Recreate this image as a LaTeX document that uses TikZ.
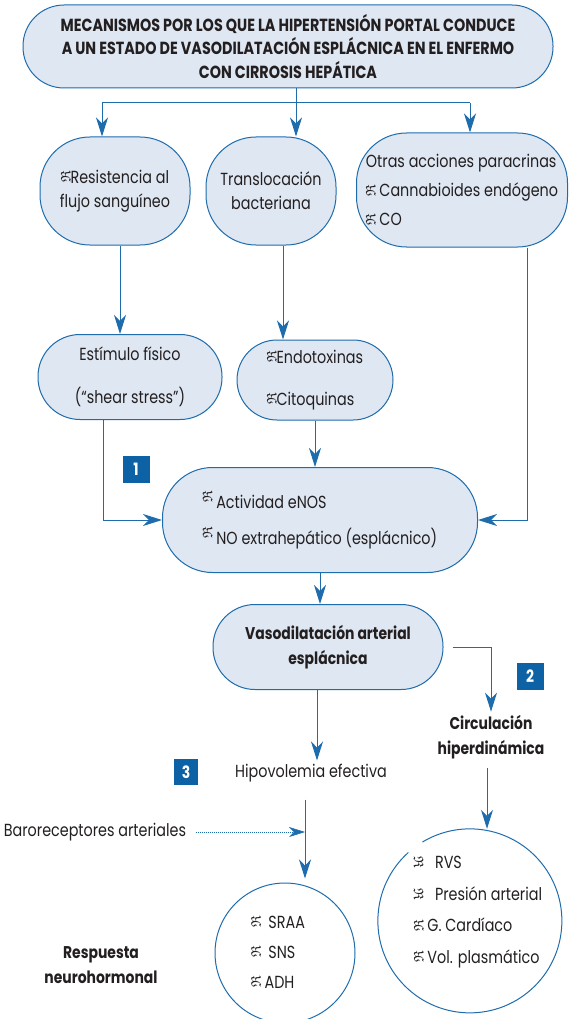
\documentclass[tikz,border=0pt]{standalone}
\usepackage{fontspec}
\setmainfont[FakeStretch=0.82]{Poppins}
\usepackage{amssymb}
\usetikzlibrary{arrows.meta}

\definecolor{lineblue}{RGB}{30,108,172}
\definecolor{boxfill}{RGB}{222,231,242}
\definecolor{numblue}{RGB}{12,98,165}
\definecolor{inkgray}{RGB}{35,31,32}

% arrow glyphs as printed
\newcommand{\upmark}{\raisebox{0.15ex}{\rotatebox[origin=c]{90}{\fontsize{14}{14}\selectfont$\mathfrak{R}$}}}
\newcommand{\dnmark}{\raisebox{0.15ex}{\rotatebox[origin=c]{-90}{\fontsize{14}{14}\selectfont$\mathfrak{R}$}}}

\begin{document}
\begin{tikzpicture}[x=1pt,y=-1pt,
  every node/.style={text=inkgray},
  link/.style={draw=lineblue, line width=1pt},
  arr/.style={link, -{Stealth[length=19pt,width=12pt,inset=6pt]}},
  box/.style={draw=lineblue, fill=boxfill, line width=1pt, rounded corners=#1,
    inner sep=0pt, align=center, font=\fontsize{17.5}{24}\selectfont},
  box/.default=40pt,
  num/.style={fill=numblue, text=white, font=\bfseries\fontsize{17}{17}\selectfont,
    minimum width=27pt, minimum height=27pt, inner sep=0pt},
  txt/.style={align=center, font=\fontsize{17.5}{24}\selectfont},
  bold/.style={align=center, font=\bfseries\fontsize{17}{25}\selectfont}]

\useasboundingbox (0,0) rectangle (574,1019);

% title
\node[box=41pt, minimum width=530pt, minimum height=83pt,
  font=\bfseries\fontsize{17.5}{23.5}\selectfont] (title) at (288,46.5)
  {MECANISMOS POR LOS QUE LA HIPERTENSIÓN PORTAL CONDUCE\\
   A UN ESTADO DE VASODILATACIÓN ESPLÁCNICA EN EL ENFERMO\\
   CON CIRROSIS HEPÁTICA};

% first row
\node[box=50pt, minimum width=150pt, minimum height=108pt] (A) at (115,191)
  {\upmark Resistencia al\\flujo sanguíneo};
\node[box=50pt, minimum width=130pt, minimum height=108pt] (B) at (271,191)
  {Translocación\\bacteriana};
\node[box=50pt, minimum width=211pt, minimum height=114pt, align=left,
  font=\fontsize{17.5}{29}\selectfont] (C) at (462,190)
  {Otras acciones paracrinas\\\upmark\ Cannabioides endógeno\\\upmark\ CO};

% second row
\node[box=42pt, minimum width=184pt, minimum height=85pt] (D) at (130,377)
  {Estímulo físico\\[19pt](“shear stress”)};
\node[box=40pt, minimum width=156pt, minimum height=80pt, align=left] (E) at (315,380)
  {\upmark Endotoxinas\\[18pt]\upmark Citoquinas};

% eNOS
\node[box=50pt, minimum width=315pt, minimum height=105pt, align=left] (F) at (320,520)
  {\raisebox{0.6ex}{\upmark}\ Actividad eNOS\\[12pt]\raisebox{0.6ex}{\upmark}\ NO extrahepático (esplácnico)};
\node[box=42pt, minimum width=230pt, minimum height=85pt,
  font=\bfseries\fontsize{17}{25}\selectfont] (G) at (328,647)
  {Vasodilatación arterial\\esplácnica};

% numbers
\node[num] (n1) at (136,469) {1};
\node[num] (n2) at (530,676) {2};
\node[num, minimum width=24pt, minimum height=26pt] (n3) at (186,772) {3};

% lower texts
\node[bold] (circ) at (491,737) {Circulación\\hiperdinámica};
\node[txt] (hipo) at (311,773) {Hipovolemia efectiva};
\node[txt] (baro) at (95,832) {Baroreceptores arteriales};
\node[bold] (resp) at (101,965) {Respuesta\\neurohormonal};

% circles
\node[circle, draw=lineblue, line width=1pt, minimum size=140pt] (neuro) at (285,953) {};
\node[align=left, font=\fontsize{17.5}{30}\selectfont] (neuroTxt) at (278,952)
  {\upmark\ \ SRAA\\\upmark\ \ SNS\\\upmark\ ADH};
\node[circle, minimum size=184pt] (hemo) at (470,921) {};
\draw[link] (hemo.132) arc[start angle=132, delta angle=349, radius=92pt];
\node[align=left, font=\fontsize{17.5}{31.5}\selectfont] (hemoTxt) at (478,912)
  {\dnmark\ \ \ RVS\\\dnmark\ \ \ Presión arterial\\\upmark\ G. Cardíaco\\\upmark\ Vol. plasmático};

% connectors
\coordinate (split) at (296,103);
\coordinate (splitL) at (102,103);
\coordinate (splitR) at (470,103);
\draw[link] (title.south -| split) -- (split);
\draw[link] (splitL) -- (splitR);
\draw[arr] (splitL) -- (A.north -| splitL);
\draw[arr] (split) -- (B.north -| split);
\draw[arr] (splitR) -- (C.north -| splitR);

\coordinate (aD) at (120,0);
\coordinate (bE) at (283,0);
\coordinate (cF) at (527,0);
\coordinate (dF) at (103,0);
\draw[arr] (A.south -| aD) -- (D.north -| aD);
\draw[arr] (B.south -| bE) -- (E.north -| bE);
\draw[arr] (C.south -| cF) |- (F.east);
\draw[arr] (D.south -| dF) |- (F.west);
\draw[arr] (E.south) -- (E.south |- F.north);
\draw[arr] (F.south) -- (F.south |- G.north);

\coordinate (gH) at (317,0);
\coordinate (hN) at (305,0);
\coordinate (cH) at (487,0);
\draw[arr, shorten <=9pt] (G.east) -| (circ.north);
\draw[arr] (G.south -| gH) -- (hipo.north -| gH);
\draw[arr, shorten >=4pt, shorten <=14pt] (hipo.south -| hN) -- (neuro.north -| hN);
\draw[link, line width=0.6pt, dash pattern=on 1pt off 1pt,
  -{Stealth[length=16pt,width=10pt,inset=5pt]}, shorten <=6pt] (baro.east) -- (baro.east -| hN);
\draw[arr, shorten <=6pt] (circ.south -| cH) -- (hemo.north -| cH);

\end{tikzpicture}
\end{document}
